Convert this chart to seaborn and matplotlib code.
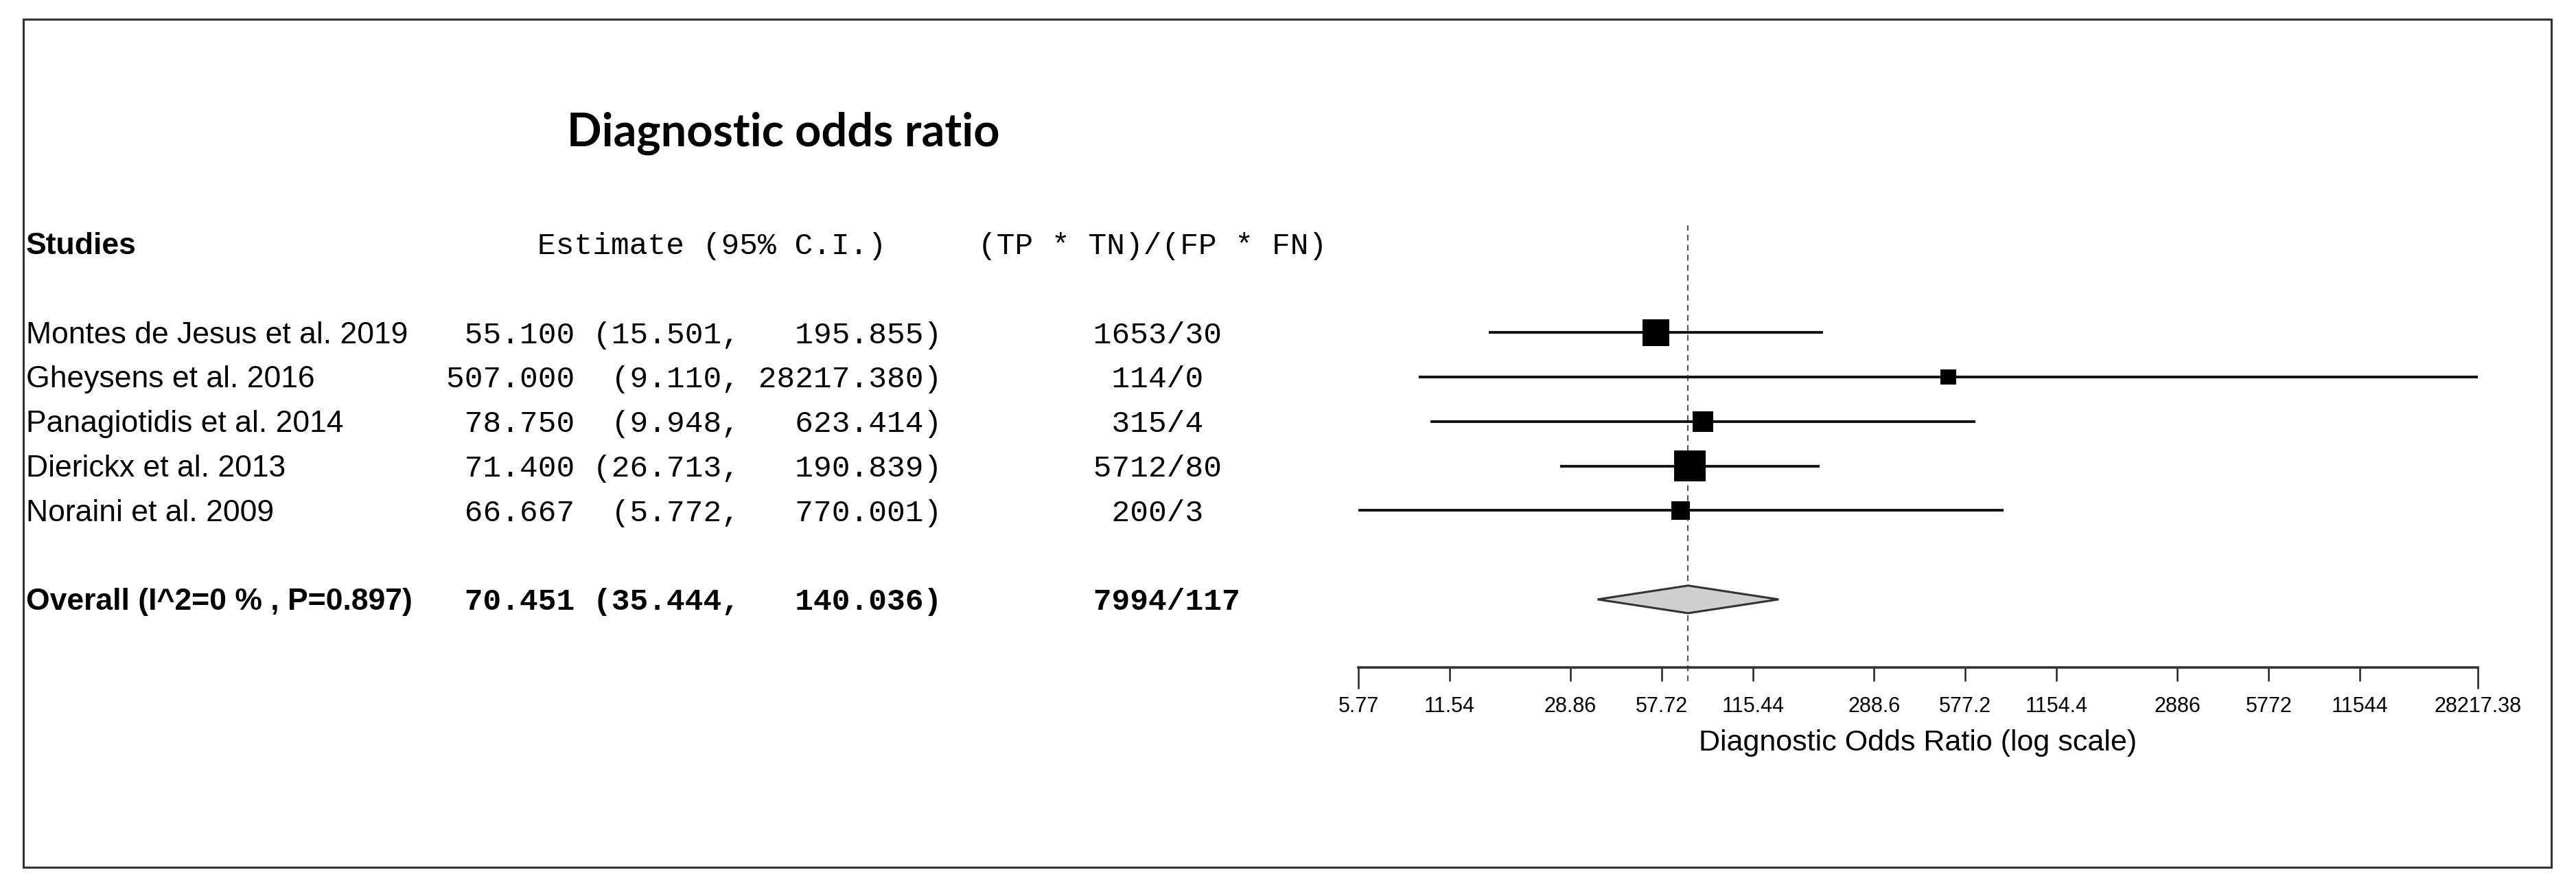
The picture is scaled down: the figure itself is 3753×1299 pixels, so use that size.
import numpy as np
import pandas as pd
import matplotlib
matplotlib.use("Agg")
import matplotlib.pyplot as plt
import seaborn as sns
from matplotlib.patches import Rectangle
from matplotlib.ticker import NullLocator
from matplotlib.transforms import blended_transform_factory

# ------------------------------------------------------------
# Data
# ------------------------------------------------------------
studies = ["Montes de Jesus et al. 2019", "Gheysens et al. 2016",
           "Panagiotidis et al. 2014", "Dierickx et al. 2013",
           "Noraini et al. 2009"]
dor = [55.100, 507.000, 78.750, 71.400, 66.667]
ci_low = [15.501, 9.110, 9.948, 26.713, 5.772]
ci_high = [195.855, 28217.380, 623.414, 190.839, 770.001]
counts = ["1653/30", "114/0", "315/4", "5712/80", "200/3"]

overall_label = "Overall (I^2=0 % , P=0.897)"
overall_dor = 70.451
overall_low = 35.444
overall_high = 140.036
overall_count = "7994/117"

tick_values = [5.77, 11.54, 28.86, 57.72, 115.44, 288.6, 577.2, 1154.4,
               2886, 5772, 11544, 28217.38]
tick_labels = ["5.77", "11.54", "28.86", "57.72", "115.44", "288.6",
               "577.2", "1154.4", "2886", "5772", "11544", "28217.38"]

title = "Diagnostic odds ratio"
x_label = "Diagnostic Odds Ratio (log scale)"

# ------------------------------------------------------------
# Style
# ------------------------------------------------------------
sns.set_theme(style="white")
plt.rcParams["font.family"] = ["Liberation Sans", "DejaVu Sans"]
plt.rcParams["text.color"] = "black"

W, H = 3753, 1299


def fx(px):
    return px / W


def fy(py):
    return 1 - py / H


fig = plt.figure(figsize=(W / 100, H / 100), dpi=100, facecolor="white")

# forest panel
ax = fig.add_axes([fx(1979), fy(972), (3610 - 1979) / W, (972 - 328) / H])

df = pd.DataFrame({"study": studies, "dor": dor, "lo": ci_low,
                   "hi": ci_high, "row": np.arange(len(studies))})
se = (np.log(df["hi"]) - np.log(df["lo"])) / (2 * 1.959964)
df["weight"] = 100 * (1 / se ** 2) / (1 / se ** 2).sum()
side_pt = (15 + 4.4 * np.sqrt(df["weight"])) * 72 / 100
sizes = dict(zip(df["weight"], side_pt ** 2))
overall_row = len(studies) + 1

ax.hlines(df["row"], df["lo"], df["hi"], color="#111111", lw=2.8, zorder=2)
sns.scatterplot(data=df, x="dor", y="row", size="weight", sizes=sizes,
                marker="s", color="black", linewidth=0, legend=False,
                ax=ax, zorder=3)

h = 0.31
ax.fill([overall_low, overall_dor, overall_high, overall_dor],
        [overall_row, overall_row - h, overall_row, overall_row + h],
        facecolor="#cfcfcf", edgecolor="#333333", lw=2.2, zorder=3)

ax.axvline(overall_dor, ymin=-20 / 644, ymax=1, color="#555555", lw=1.5,
           ls=(0, (4, 3)), clip_on=False, zorder=1)

ax.set_xscale("log")
ax.set_xlim(tick_values[0], tick_values[-1])
ax.set_ylim(7.53, -2.41)
ax.set_xticks(tick_values)
ax.set_xticklabels(tick_labels)
ax.xaxis.set_minor_locator(NullLocator())
ax.set_yticks([])
ax.set_ylabel("")
ax.set_xlabel(x_label, fontsize=31, labelpad=13, color="black")
for side in ["top", "left", "right"]:
    ax.spines[side].set_visible(False)
ax.spines["bottom"].set_linewidth(2.6)
ax.spines["bottom"].set_color("#333333")
ax.tick_params(axis="x", which="major", bottom=True, direction="out",
               length=14.4, width=1.8, color="#222222", pad=16,
               labelsize=22, labelcolor="black")
ax.patch.set_alpha(0)
ticks = ax.xaxis.get_major_ticks()
for i in (0, -1):
    ticks[i].tick1line.set_markersize(22.3)

# ------------------------------------------------------------
# Text table (rows share the forest panel's y scale)
# ------------------------------------------------------------
trans = blended_transform_factory(fig.transFigure, ax.transData)
base = 0.24
fs = 32
mono = "Liberation Mono"


def ci_text(est, lo, hi):
    return f"{est:7.3f} " + f"({lo:.3f},".rjust(8) + f" {hi:9.3f})"


ax.text(fx(38), -2 + base, "Studies", transform=trans, fontsize=fs,
        fontweight="bold", va="baseline", ha="left")
ax.text(fx(783), -2 + base, "Estimate (95% C.I.)", transform=trans,
        fontsize=fs, family=mono, va="baseline", ha="left")
ax.text(fx(1425), -2 + base, "(TP * TN)/(FP * FN)", transform=trans,
        fontsize=fs, family=mono, va="baseline", ha="left")

for r, name, d, lo, hi, c in zip(df["row"], studies, dor, ci_low, ci_high, counts):
    ax.text(fx(38), r + base, name, transform=trans, fontsize=fs,
            va="baseline", ha="left")
    ax.text(fx(650), r + base, ci_text(d, lo, hi), transform=trans,
            fontsize=fs, family=mono, va="baseline", ha="left")
    ax.text(fx(1566), r + base, c.center(9), transform=trans,
            fontsize=fs, family=mono, va="baseline", ha="left")

ax.text(fx(38), overall_row + base, overall_label, transform=trans,
        fontsize=fs, fontweight="bold", va="baseline", ha="left")
ax.text(fx(650), overall_row + base,
        ci_text(overall_dor, overall_low, overall_high), transform=trans,
        fontsize=fs, family=mono, fontweight="bold", va="baseline", ha="left")
ax.text(fx(1566), overall_row + base, overall_count.center(9),
        transform=trans, fontsize=fs, family=mono, fontweight="bold",
        va="baseline", ha="left")

# title and outer frame
fig.text(fx(826), fy(213), title, fontsize=48, fontweight="bold",
         family="Lato", va="baseline", ha="left")
fig.add_artist(Rectangle((fx(34), fy(1263)), (3717 - 34) / W,
                         (1263 - 28) / H, transform=fig.transFigure,
                         fill=False, edgecolor="#333333", lw=2.2))

fig.savefig("out.png", dpi=100, facecolor="white")
